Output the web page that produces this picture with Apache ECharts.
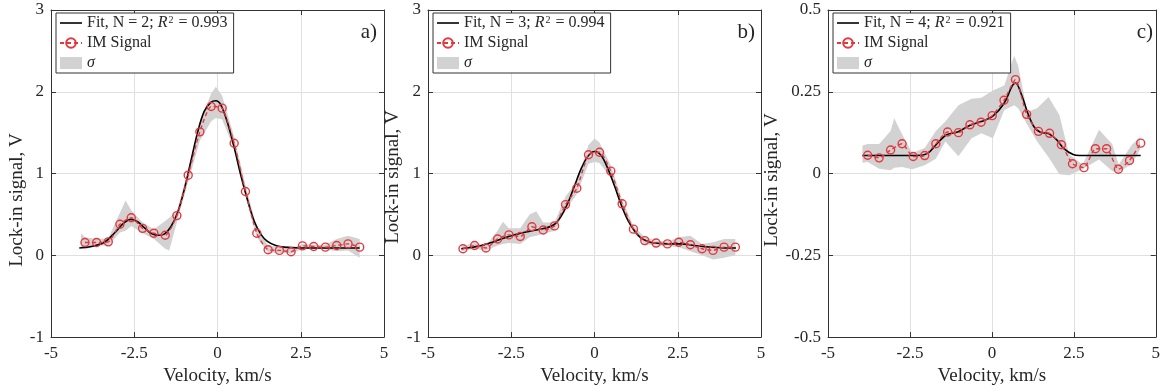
<!DOCTYPE html>
<html><head><meta charset="utf-8">
<script src="https://cdn.jsdelivr.net/npm/echarts@6/dist/echarts.min.js"></script>
<style>html,body{margin:0;padding:0;background:#fff}#c{width:1163px;height:391px}</style>
</head><body><div id="c"></div><script>
// ---------- data ----------
const xTicks = [-5, -2.5, 0, 2.5, 5];
const yTicksAB = [-1, 0, 1, 2, 3];
const yTicksC = [-0.5, -0.25, 0, 0.25, 0.5];

const panelLabels = ['a)', 'b)', 'c)'];
const fitNames = ['Fit, N = 2; R2 = 0.993', 'Fit, N = 3; R2 = 0.994', 'Fit, N = 4; R2 = 0.921'];
const fitN = ['2', '3', '4'];
const fitR2 = ['0.993', '0.994', '0.921'];

// Panel a
const velA = [-3.98,-3.63,-3.28,-2.93,-2.59,-2.25,-1.91,-1.57,-1.22,-0.88,-0.53,-0.19,0.14,0.50,0.84,1.18,1.52,1.86,2.21,2.55,2.89,3.24,3.58,3.92,4.27];
const sigA = [0.157,0.157,0.165,0.38,0.46,0.33,0.27,0.245,0.486,0.98,1.51,1.82,1.80,1.37,0.78,0.27,0.068,0.06,0.044,0.116,0.108,0.10,0.12,0.14,0.10];
const fitXA = [-4.15,-3.75,-3.4,-3.1,-2.8,-2.6,-2.4,-2.2,-2.0,-1.8,-1.6,-1.4,-1.2,-1.0,-0.8,-0.6,-0.4,-0.2,-0.05,0.1,0.3,0.5,0.7,0.9,1.1,1.3,1.5,1.75,2.0,2.5,3.0,3.5,4.27];
const fitYA = [0.09,0.11,0.16,0.27,0.40,0.44,0.41,0.34,0.27,0.245,0.26,0.35,0.52,0.80,1.15,1.50,1.76,1.87,1.89,1.84,1.62,1.32,0.98,0.68,0.42,0.26,0.17,0.12,0.10,0.09,0.09,0.09,0.09];
const bandXA = [-4.1,-3.98,-3.63,-3.28,-2.93,-2.76,-2.59,-2.25,-1.91,-1.57,-1.45,-1.22,-0.88,-0.53,-0.19,-0.05,0.14,0.50,0.84,1.18,1.52,1.86,2.21,2.55,2.89,3.24,3.58,3.92,4.27];
const bandLoA = [0.08,0.07,0.12,0.12,0.28,0.30,0.36,0.27,0.20,0.08,0.06,0.40,0.90,1.40,1.64,1.68,1.66,1.30,0.72,0.22,0.03,0.03,0.02,0.08,0.08,0.07,0.05,0.06,-0.03];
const bandHiA = [0.27,0.22,0.20,0.21,0.52,0.67,0.55,0.40,0.32,0.42,0.46,0.54,1.05,1.62,1.98,2.06,1.95,1.45,0.86,0.34,0.12,0.10,0.08,0.14,0.13,0.13,0.20,0.24,0.20];

// Panel b
const velB = [-3.95,-3.60,-3.26,-2.91,-2.57,-2.23,-1.88,-1.54,-1.20,-0.87,-0.53,-0.18,0.15,0.49,0.83,1.17,1.51,1.85,2.19,2.53,2.88,3.23,3.56,3.89,4.23];
const sigB = [0.08,0.12,0.09,0.20,0.25,0.23,0.35,0.31,0.36,0.62,0.82,1.23,1.26,1.03,0.63,0.32,0.18,0.15,0.14,0.16,0.13,0.08,0.06,0.10,0.10];
const fitXB = [-4.0,-3.5,-3.0,-2.5,-2.0,-1.5,-1.2,-1.0,-0.8,-0.6,-0.4,-0.2,0.0,0.2,0.4,0.6,0.8,1.0,1.2,1.4,1.6,1.8,2.2,2.6,3.0,3.5,4.0,4.25];
const fitYB = [0.08,0.11,0.17,0.24,0.29,0.33,0.38,0.48,0.64,0.85,1.06,1.21,1.27,1.22,1.06,0.85,0.62,0.43,0.30,0.21,0.17,0.15,0.14,0.14,0.12,0.10,0.09,0.09];
const bandXB = [-4.0,-3.60,-3.26,-2.91,-2.75,-2.57,-2.23,-1.95,-1.75,-1.54,-1.20,-0.87,-0.53,-0.18,0.0,0.15,0.49,0.83,1.17,1.51,1.85,2.19,2.53,2.88,3.23,3.56,3.89,4.23];
const bandLoB = [0.05,0.08,0.06,0.12,0.14,0.15,0.14,0.22,0.24,0.26,0.30,0.55,0.75,1.12,1.14,1.13,0.95,0.58,0.28,0.14,0.12,0.11,0.10,0.05,0.0,-0.05,-0.03,0.0];
const bandHiB = [0.11,0.15,0.12,0.30,0.41,0.33,0.33,0.50,0.54,0.40,0.40,0.72,0.90,1.35,1.43,1.38,1.10,0.68,0.36,0.22,0.18,0.17,0.22,0.24,0.14,0.16,0.20,0.20];

// Panel c
const velC = [-3.79,-3.44,-3.09,-2.74,-2.40,-2.05,-1.71,-1.35,-1.02,-0.67,-0.33,0.01,0.37,0.72,1.06,1.42,1.76,2.12,2.46,2.81,3.16,3.50,3.86,4.20,4.54];
const sigC = [0.056,0.048,0.072,0.091,0.052,0.055,0.091,0.127,0.125,0.149,0.157,0.177,0.224,0.287,0.181,0.129,0.123,0.088,0.030,0.018,0.076,0.076,0.013,0.040,0.093];
const fitXC = [-3.95,-3.0,-2.14,-1.93,-1.73,-1.39,-1.03,-0.68,-0.33,0.02,0.37,0.62,0.72,0.92,1.08,1.28,1.48,1.73,1.98,2.18,2.48,2.68,3.5,4.54];
const fitYC = [0.055,0.055,0.056,0.064,0.085,0.118,0.128,0.147,0.159,0.175,0.214,0.268,0.277,0.237,0.189,0.144,0.126,0.122,0.103,0.078,0.058,0.055,0.055,0.055];
const bandXC = [-3.95,-3.79,-3.44,-3.09,-2.98,-2.74,-2.43,-2.05,-1.71,-1.42,-1.02,-0.62,-0.32,0.03,0.38,0.68,0.80,1.08,1.38,1.73,2.06,2.36,2.77,3.27,3.67,3.87,4.27,4.52];
const bandLoC = [0.033,0.035,0.015,0.010,0.018,0.020,0.013,0.025,0.045,0.098,0.053,0.108,0.123,0.108,0.194,0.209,0.200,0.149,0.098,0.050,-0.002,-0.005,0.014,0.043,0.008,0.003,0.030,0.073];
const bandHiC = [0.086,0.090,0.090,0.130,0.169,0.120,0.063,0.078,0.130,0.159,0.209,0.229,0.232,0.254,0.269,0.360,0.330,0.189,0.200,0.234,0.179,0.058,0.028,0.134,0.090,0.028,0.088,0.110];

// ---------- styling / layout ----------
const FONT = '"Liberation Serif", "DejaVu Serif", serif';
const TXT = '#262626';
const RED = '#e2383f';
const GRAYBAND = '#d2d2d2';
const layout = [
  {left: 51, legendLeft: 56, labelRight: 377, yNameX: 17, yNameY: 200},
  {left: 428, legendLeft: 433, labelRight: 755, yNameX: 393, yNameY: 177},
  {left: 828, legendLeft: 833, labelRight: 1153, yNameX: 772, yNameY: 180}
];
const panels = [
  {vel: velA, sig: sigA, fx: fitXA, fy: fitYA, bx: bandXA, lo: bandLoA, hi: bandHiA, yt: yTicksAB},
  {vel: velB, sig: sigB, fx: fitXB, fy: fitYB, bx: bandXB, lo: bandLoB, hi: bandHiB, yt: yTicksAB},
  {vel: velC, sig: sigC, fx: fitXC, fy: fitYC, bx: bandXC, lo: bandLoC, hi: bandHiC, yt: yTicksC}
];
const zip = (a, b) => a.map((v, i) => [v, b[i]]);

const grids = [], xAxes = [], yAxes = [], series = [], legends = [], graphics = [];
const axisLineStyle = {color: '#333333', width: 1};
const labelStyle = {fontFamily: FONT, fontSize: 17, color: TXT};

panels.forEach((p, i) => {
  const L = layout[i];
  grids.push({left: L.left, top: 10, width: i === 2 ? 332 : 333, height: 332});
  const yMin = p.yt[0], yMax = p.yt[p.yt.length - 1], yInt = p.yt[1] - p.yt[0];
  xAxes[i] = {type: 'value', gridIndex: i, position: 'bottom', min: xTicks[0], max: xTicks[xTicks.length - 1], interval: xTicks[1] - xTicks[0],
    axisLine: {show: true, onZero: false, lineStyle: axisLineStyle},
    axisTick: {show: true, inside: true, length: 5, lineStyle: axisLineStyle},
    axisLabel: Object.assign({margin: 8}, labelStyle),
    splitLine: {show: true, lineStyle: {color: '#e0e0e0', width: 1}},
    name: 'Velocity, km/s', nameLocation: 'middle', nameGap: 27,
    nameTextStyle: {fontFamily: FONT, fontSize: 19, color: TXT}};
  xAxes[i + 3] = {type: 'value', gridIndex: i, position: 'top', min: xTicks[0], max: xTicks[xTicks.length - 1], interval: xTicks[1] - xTicks[0],
    axisLine: {show: true, onZero: false, lineStyle: axisLineStyle},
    axisTick: {show: true, inside: true, length: 5, lineStyle: axisLineStyle},
    axisLabel: {show: false}, splitLine: {show: false}};
  yAxes[i] = {type: 'value', gridIndex: i, position: 'left', min: yMin, max: yMax, interval: yInt,
    axisLine: {show: true, onZero: false, lineStyle: axisLineStyle},
    axisTick: {show: true, inside: true, length: 5, lineStyle: axisLineStyle},
    axisLabel: Object.assign({margin: 7}, labelStyle),
    splitLine: {show: true, lineStyle: {color: '#e0e0e0', width: 1}}};
  yAxes[i + 3] = {type: 'value', gridIndex: i, position: 'right', min: yMin, max: yMax, interval: yInt,
    axisLine: {show: true, onZero: false, lineStyle: axisLineStyle},
    axisTick: {show: true, inside: true, length: 5, lineStyle: axisLineStyle},
    axisLabel: {show: false}, splitLine: {show: false}};

  const bandData = p.bx.map((x, k) => [x, p.lo[k], p.hi[k]]);
  series.push({
    type: 'custom', name: 'σ', xAxisIndex: i, yAxisIndex: i, z: 1,
    itemStyle: {color: GRAYBAND},
    encode: {x: 0, y: [1, 2]},
    data: bandData,
    renderItem: function (params, api) {
      if (params.dataIndex !== 0) return null;
      const pts = [];
      for (let k = 0; k < bandData.length; k++) pts.push(api.coord([bandData[k][0], bandData[k][2]]));
      for (let k = bandData.length - 1; k >= 0; k--) pts.push(api.coord([bandData[k][0], bandData[k][1]]));
      return {type: 'polygon', shape: {points: pts}, style: {fill: GRAYBAND, stroke: 'none'}, silent: true};
    }
  });
  series.push({
    type: 'line', name: fitNames[i], xAxisIndex: i, yAxisIndex: i, z: 3,
    data: zip(p.fx, p.fy), smooth: 0.35, symbol: 'none', showSymbol: false,
    lineStyle: {color: '#000000', width: 1.6}, itemStyle: {color: '#000000'}
  });
  series.push({
    type: 'line', name: 'IM Signal', xAxisIndex: i, yAxisIndex: i, z: 4,
    data: zip(p.vel, p.sig), smooth: 0.2, symbol: 'circle', symbolSize: 8,
    itemStyle: {color: 'rgba(255,255,255,0)', borderColor: RED, borderWidth: 1.4},
    lineStyle: {color: RED, width: 1.4, type: [4, 3]}
  });

  legends.push({
    left: L.legendLeft, top: 13, orient: 'vertical', itemGap: 4, itemWidth: 22, itemHeight: 12,
    padding: [2, 6, 2, 3], backgroundColor: '#ffffff', borderColor: '#333333', borderWidth: 1,
    selectedMode: false,
    data: [
      {name: fitNames[i], icon: 'path://M0,0 L22,0 L22,1.6 L0,1.6 Z'},
      {name: 'IM Signal'},
      {name: 'σ', icon: 'rect'}
    ],
    formatter: function (name) {
      const k = fitNames.indexOf(name);
      if (k >= 0) return '{n|Fit, N = ' + fitN[k] + '; }{r|R}{s|2}{n| = ' + fitR2[k] + '}';
      if (name === 'σ') return '{r|σ}';
      return '{n|' + name + '}';
    },
    textStyle: {fontFamily: FONT, fontSize: 16, color: TXT,
      rich: {
        n: {fontFamily: FONT, fontSize: 16, color: TXT, lineHeight: 16},
        r: {fontFamily: FONT, fontSize: 16, color: TXT, fontStyle: 'italic', lineHeight: 16},
        s: {fontFamily: FONT, fontSize: 10, color: TXT, verticalAlign: 'top', lineHeight: 16, padding: [0, 1, 0, 1]}
      }}
  });

  graphics.push({type: 'text', x: L.labelRight, y: 32, silent: true,
    style: {text: panelLabels[i], font: '21px ' + FONT, fill: TXT, textAlign: 'right', align: 'right', textVerticalAlign: 'middle', verticalAlign: 'middle'}});
  graphics.push({type: 'text', x: L.yNameX, y: L.yNameY, rotation: Math.PI / 2, silent: true,
    style: {text: 'Lock-in signal, V', font: '19px ' + FONT, fill: TXT, textAlign: 'center', align: 'center', textVerticalAlign: 'middle', verticalAlign: 'middle'}});
});

const chart = echarts.init(document.getElementById('c'), null, {renderer: 'canvas'});
chart.setOption({
  animation: false, backgroundColor: '#ffffff',
  grid: grids, xAxis: xAxes, yAxis: yAxes, series: series, legend: legends, graphic: graphics
});
</script></body></html>
